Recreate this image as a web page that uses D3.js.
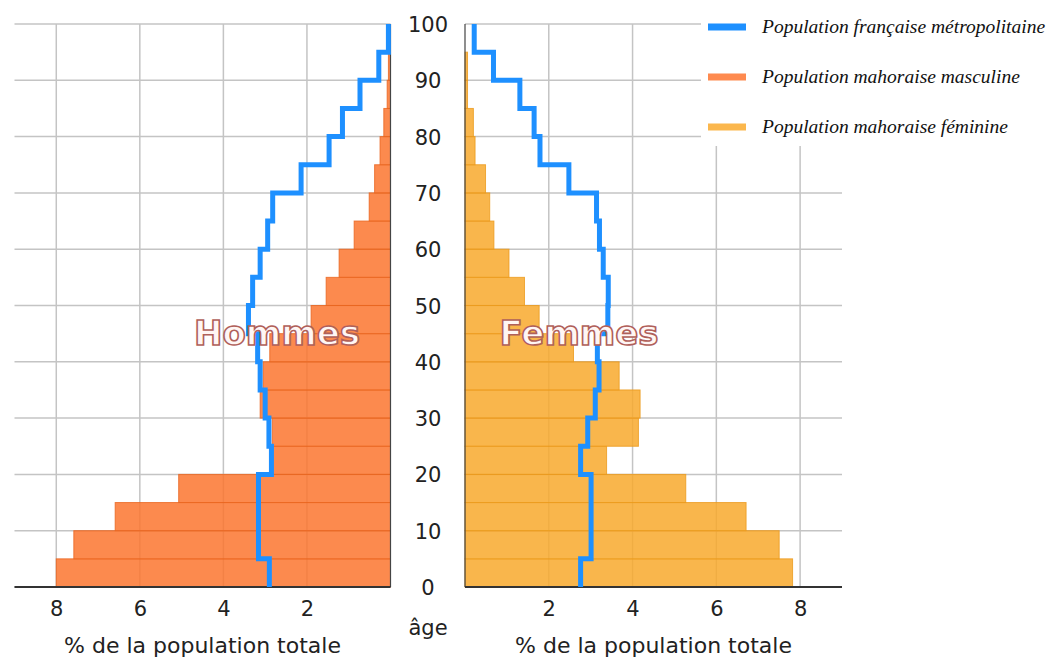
<!DOCTYPE html>
<html>
<head>
<meta charset="utf-8">
<script src="https://cdn.jsdelivr.net/npm/d3@7"></script>
<style>
body { margin: 0; background: #fff; }
</style>
</head>
<body>
<script>
// age groups of 5 years, start age of each
var ageStarts = [0,5,10,15,20,25,30,35,40,45,50,55,60,65,70,75,80,85,90,95];
var ageTicks = [0,10,20,30,40,50,60,70,80,90,100];
var pctTicks = [2,4,6,8];

// % of total population
var mayotteMale   = [8.00,7.58,6.59,5.07,2.81,2.83,3.12,3.05,2.89,1.90,1.54,1.23,0.87,0.51,0.38,0.25,0.16,0.08,0.05,0];
var franceMale    = [2.90,3.16,3.16,3.16,2.85,2.91,3.00,3.12,3.18,3.40,3.30,3.12,2.94,2.82,2.14,1.47,1.15,0.73,0.28,0.05];
var mayotteFemale = [7.82,7.50,6.71,5.27,3.38,4.14,4.18,3.68,2.59,1.77,1.42,1.05,0.69,0.59,0.49,0.24,0.20,0.06,0.06,0];
var franceFemale  = [2.76,3.01,3.01,3.01,2.76,2.93,3.11,3.20,3.16,3.41,3.42,3.30,3.21,3.14,2.48,1.79,1.65,1.31,0.68,0.22];

var legendLabels = ["Population française métropolitaine", "Population mahoraise masculine", "Population mahoraise féminine"];
var legendColors = ["#1e90ff", "#fe8a4f", "#fbb74d"];

var w = 1052, h = 658;
var svg = d3.select("body").append("svg")
    .attr("width", w)
    .attr("height", h);

var y = d3.scaleLinear().domain([0, 100]).range([587, 24]);
var xL = d3.scaleLinear().domain([0, 9]).range([390.5, 14.5]); // hommes, grows to the left
var xR = d3.scaleLinear().domain([0, 9]).range([465, 842]);    // femmes

var panels = [
    {x: xL, bars: mayotteMale, line: franceMale, fill: "#fb752f", edge: "#e8641e", label: "Hommes", lx: 277},
    {x: xR, bars: mayotteFemale, line: franceFemale, fill: "#f8a92d", edge: "#eb9a1c", label: "Femmes", lx: 579}
];

panels.forEach(function(p){
    var g = svg.append("g");
    var x0 = p.x(0), x9 = p.x(9);

    // grid
    g.selectAll(".hgrid").data(ageTicks).enter().append("line")
        .attr("x1", x0).attr("x2", x9)
        .attr("y1", function(d){ return y(d); })
        .attr("y2", function(d){ return y(d); })
        .attr("stroke", "#c4c4c4").attr("stroke-width", 1.5);
    g.selectAll(".vgrid").data(pctTicks).enter().append("line")
        .attr("x1", function(d){ return p.x(d); })
        .attr("x2", function(d){ return p.x(d); })
        .attr("y1", y(100)).attr("y2", y(0))
        .attr("stroke", "#c4c4c4").attr("stroke-width", 1.5);

    // bars
    g.selectAll(".bar").data(p.bars).enter().append("rect")
        .attr("x", function(d){ return Math.min(p.x(0), p.x(d)); })
        .attr("width", function(d){ return Math.abs(p.x(d) - p.x(0)); })
        .attr("y", function(d, i){ return y(ageStarts[i] + 5); })
        .attr("height", function(d, i){ return y(ageStarts[i]) - y(ageStarts[i] + 5); })
        .attr("fill", p.fill).attr("fill-opacity", 0.85)
        .attr("stroke", p.edge).attr("stroke-width", 1).attr("stroke-opacity", 0.8);

    // axis lines
    g.append("line").attr("x1", x0).attr("x2", x0).attr("y1", y(100)).attr("y2", y(0))
        .attr("stroke", "#444").attr("stroke-width", 1.2);
    g.append("line").attr("x1", x0).attr("x2", x9).attr("y1", y(0)).attr("y2", y(0))
        .attr("stroke", "#333").attr("stroke-width", 1.8);

    // France stepped line
    var pts = p.line.map(function(d, i){ return [d, ageStarts[i]]; });
    pts.push([p.line[p.line.length - 1], 100]);
    var stepLine = d3.line()
        .x(function(d){ return p.x(d[0]); })
        .y(function(d){ return y(d[1]); })
        .curve(d3.curveStepBefore);
    g.append("path").datum(pts)
        .attr("d", stepLine)
        .attr("fill", "none")
        .attr("stroke", "#1e90ff")
        .attr("stroke-width", 5);

    // bottom axis
    var ax = g.append("g").attr("transform", "translate(0,598)")
        .call(d3.axisBottom(p.x).tickValues(pctTicks).tickSize(0).tickFormat(d3.format("d")));
    ax.select(".domain").remove();
    ax.selectAll("text").attr("font-family", "DejaVu Sans").attr("font-size", 21)
        .attr("fill", "#222").attr("dy", "0.71em");

    g.append("text")
        .attr("x", (p.x(0.5) + p.x(8.5)) / 2).attr("y", 653)
        .attr("text-anchor", "middle")
        .attr("font-family", "DejaVu Sans").attr("font-size", 22).attr("fill", "#222")
        .text("% de la population totale");

    // Hommes / Femmes
    g.append("text")
        .attr("x", p.lx).attr("y", 345)
        .attr("text-anchor", "middle")
        .attr("font-family", "DejaVu Sans").attr("font-weight", "bold").attr("font-size", 34)
        .attr("fill", "#fff6f4").attr("stroke", "#b0605a").attr("stroke-width", 1.6)
        .text(p.label);
});

// age labels
svg.selectAll(".age").data(ageTicks).enter().append("text")
    .attr("x", 428)
    .attr("y", function(d){ return y(d) + 8; })
    .attr("text-anchor", "middle")
    .attr("font-family", "DejaVu Sans").attr("font-size", 21).attr("fill", "#222")
    .text(function(d){ return d; });
svg.append("text").attr("x", 428).attr("y", 635)
    .attr("text-anchor", "middle")
    .attr("font-family", "DejaVu Sans").attr("font-size", 21).attr("fill", "#222")
    .text("âge");

// legend
svg.append("rect").attr("x", 701).attr("y", 0).attr("width", 351).attr("height", 146).attr("fill", "#fff");
var leg = svg.selectAll(".leg").data(legendLabels).enter().append("g")
    .attr("transform", function(d, i){ return "translate(708," + (27 + i * 50) + ")"; });
leg.append("line").attr("x1", 0).attr("x2", 38).attr("y1", 0).attr("y2", 0)
    .attr("stroke", function(d, i){ return legendColors[i]; }).attr("stroke-width", 7);
leg.append("text").attr("x", 54).attr("y", 6)
    .attr("font-family", "Liberation Serif").attr("font-style", "italic").attr("font-size", 19.5)
    .attr("fill", "#111")
    .text(function(d){ return d; });
</script>
</body>
</html>
